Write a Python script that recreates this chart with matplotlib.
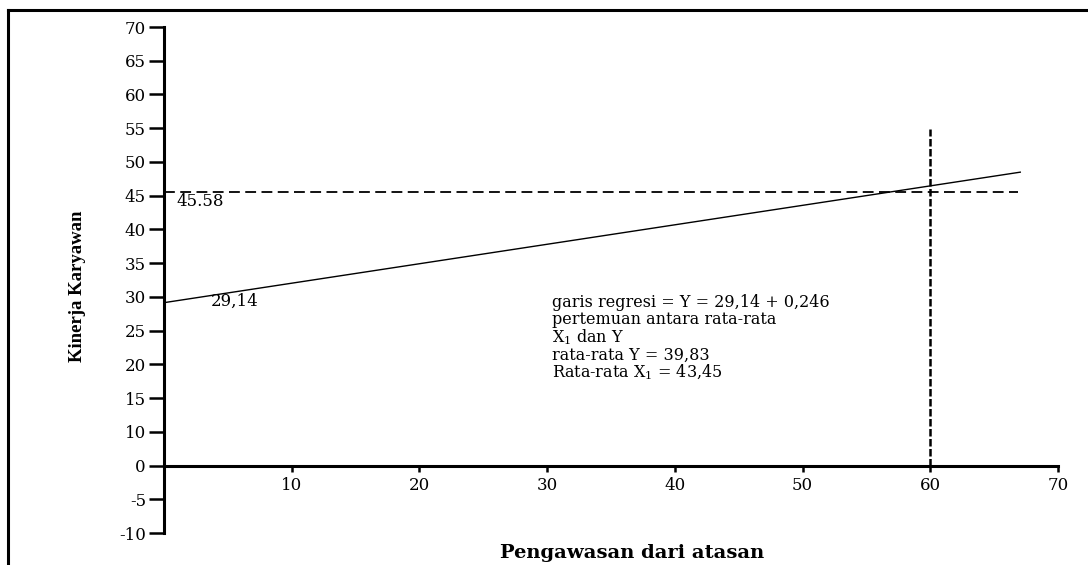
import matplotlib
matplotlib.use("Agg")
import matplotlib.pyplot as plt
from matplotlib.lines import Line2D

# ---- data ----
x_ticks = [10, 20, 30, 40, 50, 60, 70]
y_tick_pos = [70, 65, 60, 55, 50, 45, 40, 35, 30, 25, 20, 15, 10, 5, 0, -5]
y_tick_labels = ["70", "65", "60", "55", "50", "45", "40", "35", "30", "25",
                 "20", "15", "10", "0", "-5", "-10"]
reg_x = [0, 67.1]
reg_y = [29.14, 48.5]
mean_y = 45.58
mean_y_xrange = [0, 66.9]
mean_x = 60
mean_x_yrange = [5, 54.9]
notes = ["garis regresi = Y = 29,14 + 0,246",
         "pertemuan antara rata-rata",
         r"X$\mathregular{_1}$ dan Y",
         "rata-rata Y = 39,83",
         r"Rata-rata X$\mathregular{_1}$ = 43,45"]

plt.rcParams['font.family'] = ['DejaVu Serif']
plt.rcParams['mathtext.fontset'] = 'dejavuserif'

W, H = 1088, 565
fig = plt.figure(figsize=(W / 100, H / 100), dpi=100)
ax = fig.add_axes([164 / W, 1 - 533 / H, 894 / W, 506 / H])
ax.set_xlim(0, 70)
ax.set_ylim(-5, 70)

for s in ['top', 'right']:
    ax.spines[s].set_visible(False)
ax.spines['left'].set_linewidth(2.2)
ax.spines['bottom'].set_linewidth(2.2)
ax.spines['bottom'].set_position(('data', 5))

ax.set_xticks(x_ticks)
ax.set_xticklabels([str(v) for v in x_ticks])
ax.set_yticks(y_tick_pos)
ax.set_yticklabels(y_tick_labels)
ax.tick_params(axis='y', direction='out', length=11, width=1.8, pad=2, labelsize=12)
ax.tick_params(axis='x', direction='out', length=4, width=1.8, pad=4, labelsize=12)

ax.plot(reg_x, reg_y, color='black', lw=1.0, solid_capstyle='butt', clip_on=False)
ax.plot(mean_y_xrange, [mean_y, mean_y], color='black', lw=1.3,
        dashes=(6, 3), clip_on=False)
ax.plot([mean_x, mean_x], mean_x_yrange, color='black', lw=1.8,
        dashes=(3, 1), clip_on=False)

ax.text(1.0, 43.5, "45.58", fontsize=12, va='baseline', ha='left')
ax.text(3.7, 28.7, "29,14", fontsize=12, va='baseline', ha='left')
note_y = [28.5, 26.0, 23.3, 20.6, 18.1]
for t, yy in zip(notes, note_y):
    ax.text(30.4, yy, t, fontsize=11.5, va='baseline', ha='left')

fig.text(77 / W, 1 - 286 / H, "Kinerja Karyawan", rotation=90,
         fontsize=13.5, fontweight='bold', family=['Liberation Serif'],
         ha='center', va='center')
fig.text(632 / W, 1 - 558 / H, "Pengawasan dari atasan", fontsize=14,
         fontweight='bold', ha='center', va='baseline')

# outer frame (left and top)
fig.add_artist(Line2D([8 / W, 8 / W], [0, 1 - 10 / H], color='black', lw=2.2,
                      transform=fig.transFigure))
fig.add_artist(Line2D([8 / W, 1], [1 - 10 / H, 1 - 10 / H], color='black', lw=2.2,
                      transform=fig.transFigure))

fig.savefig("out.png", dpi=100)
